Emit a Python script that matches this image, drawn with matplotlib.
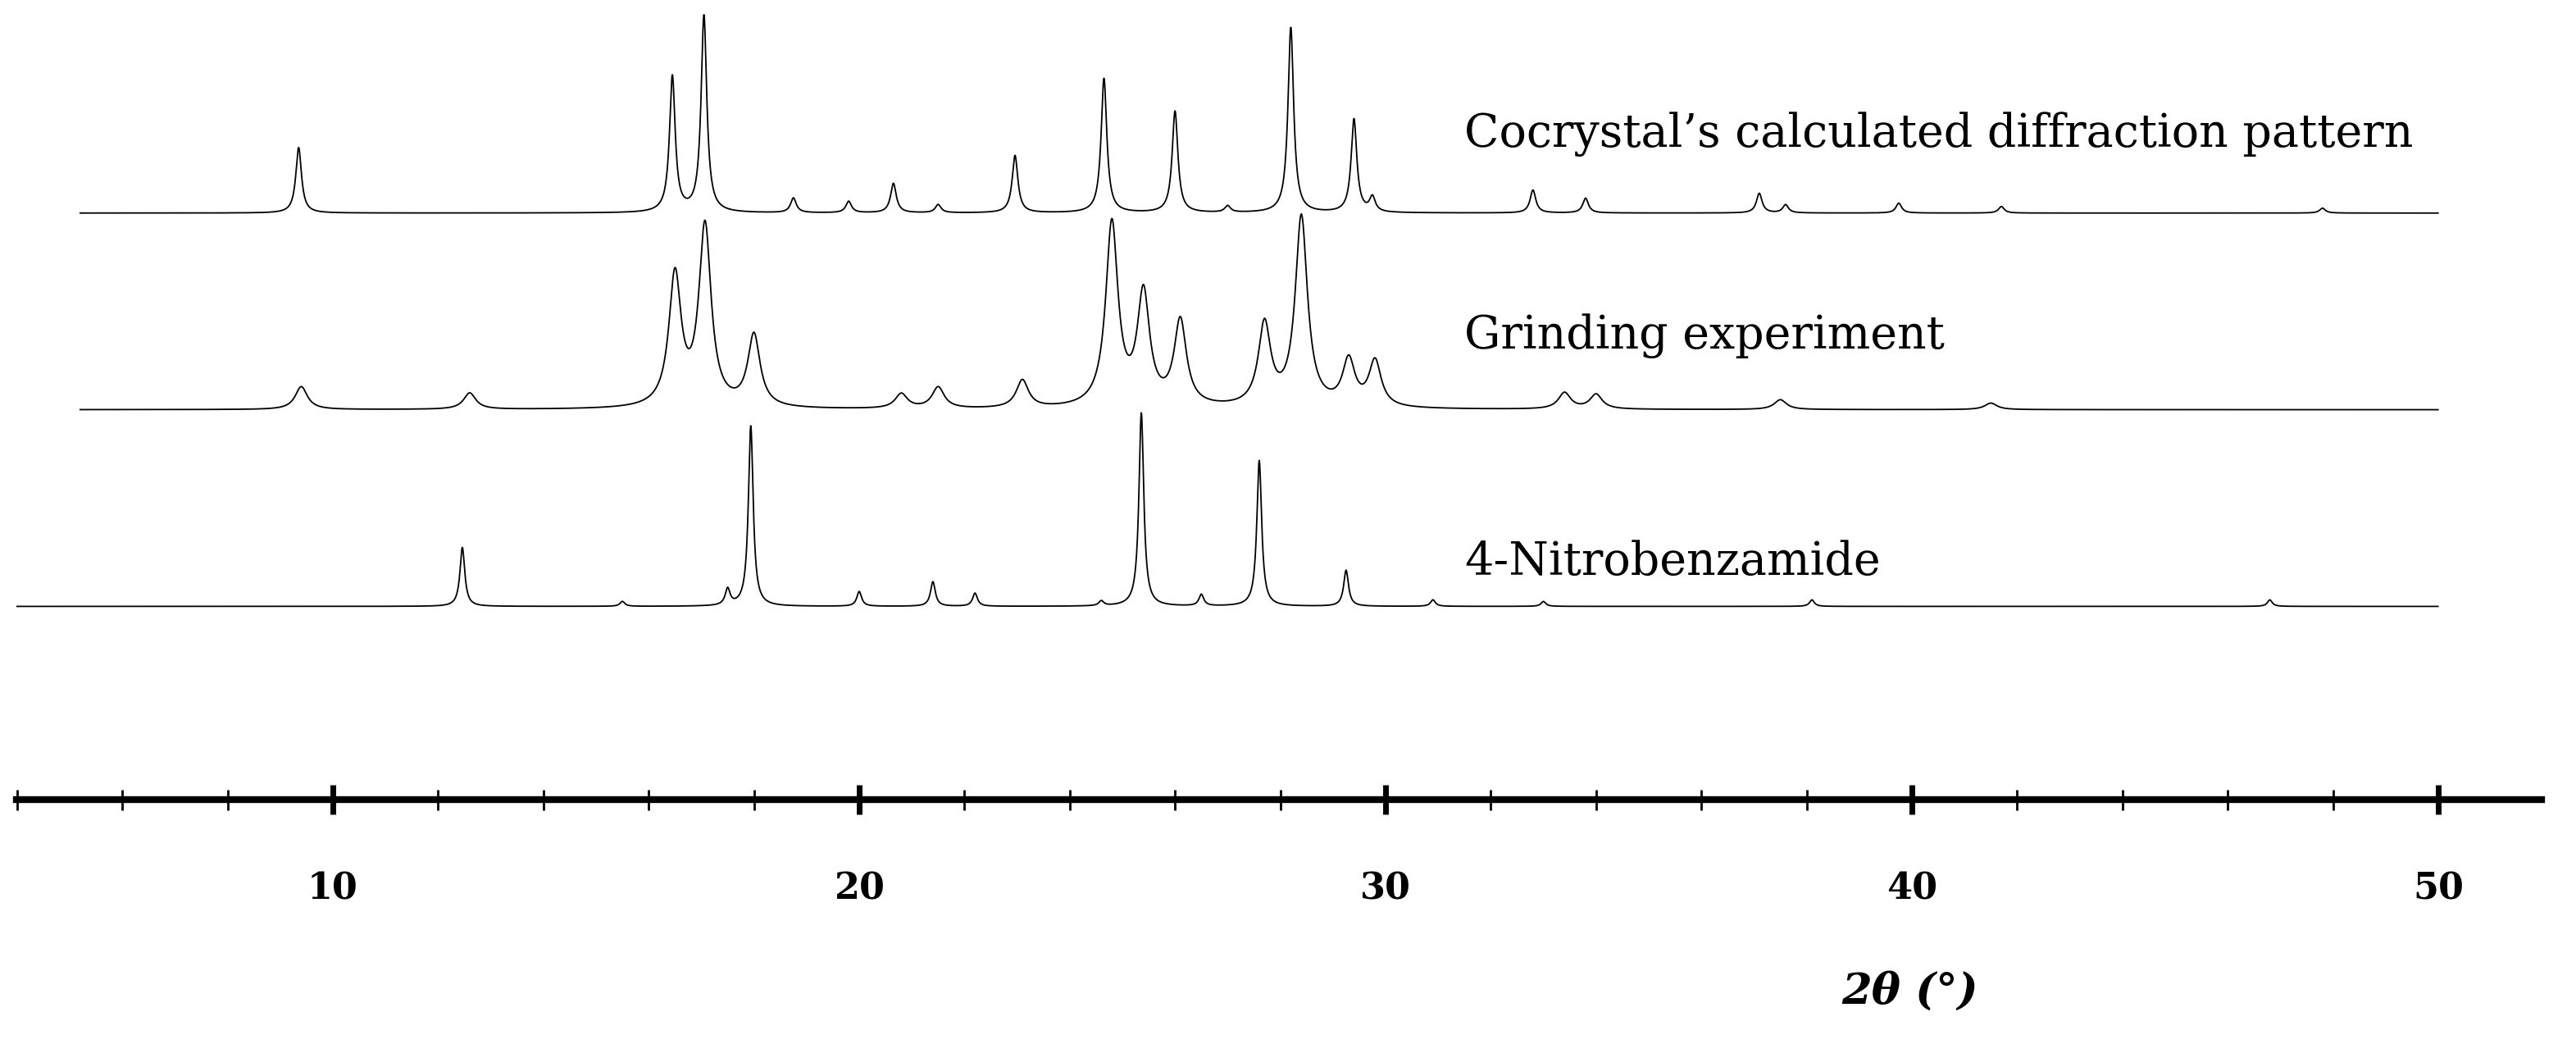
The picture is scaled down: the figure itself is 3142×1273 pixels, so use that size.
import numpy as np
import matplotlib.pyplot as plt
from matplotlib.ticker import MultipleLocator

# peak lists: (2theta, height in px above the trace's baseline)
cocrystal_pos = [9.35, 16.45, 17.05, 18.75, 19.8, 20.65, 21.5, 22.96, 24.65, 26.0, 27.0, 28.2, 29.4, 29.75,
                 32.8, 33.8, 37.1, 37.6, 39.75, 41.7, 47.8]
cocrystal_hgt = [40, 83, 120, 9, 7, 18, 5, 35, 82, 62, 4, 113, 57, 9, 14, 9, 12, 5, 6, 4, 3]
grinding_pos = [9.4, 12.6, 16.5, 17.07, 18.0, 20.8, 21.5, 23.1, 24.8, 25.4, 26.1, 27.7, 28.4, 29.3, 29.8,
                33.4, 34.0, 37.5, 41.5]
grinding_hgt = [14, 10, 80, 110, 44, 9, 13, 17, 112, 68, 52, 50, 116, 28, 28, 10, 9, 6, 4]
nitro_pos = [12.46, 15.5, 17.5, 17.94, 20.0, 21.4, 22.2, 24.6, 25.36, 26.5, 27.6, 29.25, 30.9, 33.0,
             38.1, 46.8]
nitro_hgt = [36, 3, 10, 110, 9, 15, 8, 3, 118, 7, 89, 22, 4, 3, 4, 4]

cocrystal_range = (5.2, 50.0)
grinding_range = (5.2, 50.0)
nitro_range = (4.0, 50.0)

labels = ["Cocrystal\u2019s calculated diffraction pattern", "Grinding experiment", "4-Nitrobenzamide"]


def profile(rng, pos, hgt, fwhm):
    x = np.arange(rng[0], rng[1], 0.005)
    y = np.zeros_like(x)
    g = fwhm / 2
    for p, h in zip(pos, hgt):
        y += h * g**2 / ((x - p)**2 + g**2)
    return x, y


fig = plt.figure(figsize=(31.42, 12.73), dpi=100)
x0, x1 = 10 / 1571, 1550 / 1571
axis_y = 488 / 637
ax = fig.add_axes([x0, 1 - axis_y, x1 - x0, axis_y])
th = lambda px: 10 + (px - 203) / 32.1
ax.set_xlim(th(10), th(1550))
ax.set_ylim(0, 488)

traces = [(cocrystal_range, cocrystal_pos, cocrystal_hgt, 0.13, 488 - 130),
          (grinding_range, grinding_pos, grinding_hgt, 0.28, 488 - 250),
          (nitro_range, nitro_pos, nitro_hgt, 0.11, 488 - 370)]
for (rng, pos, hgt, w, base) in traces:
    x, y = profile(rng, pos, hgt, w)
    ax.plot(x, base + y, color='black', lw=1.3)

text_y = [488 - 82, 488 - 205, 488 - 343]
for lab, ty in zip(labels, text_y):
    ax.text(th(893), ty, lab, family='DejaVu Serif', fontsize=40, va='center', ha='left')

for s in ['top', 'left', 'right']:
    ax.spines[s].set_visible(False)
ax.spines['bottom'].set_linewidth(6)
ax.set_yticks([])
ax.xaxis.set_major_locator(MultipleLocator(10))
ax.xaxis.set_minor_locator(MultipleLocator(2))
ax.tick_params(axis='x', which='major', direction='inout', length=26, width=5, pad=50)
ax.tick_params(axis='x', which='minor', direction='inout', length=18, width=2)
for t in ax.get_xticklabels():
    t.set_fontfamily('DejaVu Serif')
    t.set_fontweight('bold')
    t.set_fontsize(32)

fig.text(1165 / 1571, 1 - 605 / 637, "2\u03b8 (\u00b0)", family='DejaVu Serif', style='italic',
         fontweight='bold', fontsize=38, ha='center', va='center')

fig.savefig('out.png', dpi=100)
